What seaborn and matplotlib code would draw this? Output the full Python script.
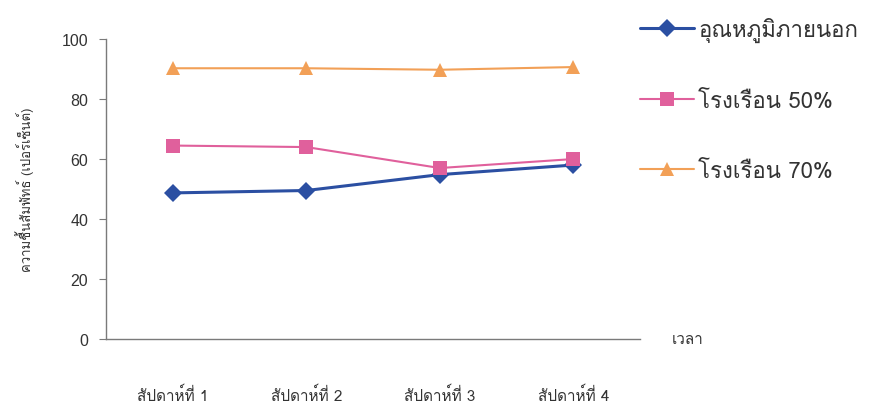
import matplotlib
matplotlib.use("Agg")
import matplotlib.pyplot as plt
from matplotlib import font_manager
from matplotlib.ft2font import FT2Font
import pandas as pd
import seaborn as sns

weeks = ["สัปดาห์ที่ 1", "สัปดาห์ที่ 2", "สัปดาห์ที่ 3", "สัปดาห์ที่ 4"]
series_names = ["อุณหภูมิภายนอก", "โรงเรือน 50%", "โรงเรือน 70%"]
outside = [48.7, 49.5, 54.8, 58.0]
house_50 = [64.5, 64.0, 57.0, 60.0]
house_70 = [90.3, 90.3, 89.8, 90.7]
y_ticks = [0, 20, 40, 60, 80, 100]
y_title = "ความชื้นสัมพัทธ์ (เปอร์เซ็นต์)"
x_title = "เวลา"

sns.set_style("white")


def thai_family():
    # pick an installed family that actually has Thai glyphs
    for fe in font_manager.fontManager.ttflist:
        try:
            cmap = FT2Font(fe.fname).get_charmap()
        except Exception:
            continue
        if 0x0E01 in cmap and 0x0E2D in cmap:
            return fe.name
    return None


fam = thai_family()
families = ([fam] if fam else []) + ["Liberation Sans", "DejaVu Sans"]
plt.rcParams["font.family"] = families

df = pd.DataFrame({
    "week": weeks * 3,
    "pos": list(range(len(weeks))) * 3,
    "value": outside + house_50 + house_70,
    "series": [series_names[0]] * 4 + [series_names[1]] * 4 + [series_names[2]] * 4,
})

colors = {series_names[0]: "#2B4FA2",
          series_names[1]: "#E0609C",
          series_names[2]: "#F2A057"}
markers = {series_names[0]: "D", series_names[1]: "s", series_names[2]: "^"}
widths = {series_names[0]: 2.2, series_names[1]: 1.5, series_names[2]: 1.5}
msizes = {series_names[0]: 9, series_names[1]: 10, series_names[2]: 10}

fig = plt.figure(figsize=(8.84, 4.06), dpi=100)
ax = fig.add_axes([0.12, 0.163, 0.604, 0.738])

sns.lineplot(data=df, x="pos", y="value", hue="series", style="series",
             palette=colors, markers=markers, dashes=False,
             markersize=9, markeredgewidth=0, linewidth=1.6, ax=ax,
             legend="full")

# per-series line weight and marker size
for line, name in zip(ax.get_lines()[:3], series_names):
    line.set_linewidth(widths[name])
    line.set_markersize(msizes[name])

ax.set_xlim(-0.5, len(weeks) - 0.5)
ax.set_ylim(0, 100)
ax.set_yticks(y_ticks)
ax.set_yticklabels([str(v) for v in y_ticks], fontsize=11.5, color="#333333",
                   family=["Liberation Sans", "DejaVu Sans"])
ax.set_xticks(range(len(weeks)))
ax.set_xticklabels(weeks, fontsize=11, color="#333333")
ax.set_xticks([i - 0.5 for i in range(len(weeks) + 1)], minor=True)
ax.tick_params(axis="x", which="major", length=0, pad=34)
ax.tick_params(axis="x", which="minor", length=5, color="#7a7a7a", direction="out")
ax.tick_params(axis="y", length=5, color="#7a7a7a", direction="out", pad=8, left=True)

for side in ("top", "right"):
    ax.spines[side].set_visible(False)
for side in ("left", "bottom"):
    ax.spines[side].set_color("#7a7a7a")
    ax.spines[side].set_linewidth(1.0)

ax.set_xlabel("")
ax.set_ylabel(y_title, fontsize=9.5, color="#333333", labelpad=20)
ax.text(1.09, 0.0, x_title, transform=ax.transAxes, fontsize=11,
        color="#333333", ha="center", va="center")

handles, labels = ax.get_legend_handles_labels()
for h, name in zip(handles, labels):
    if name in widths:
        h.set_linewidth(widths[name])
        h.set_markersize(msizes[name])
ax.legend(handles, labels, loc="upper left", bbox_to_anchor=(0.963, 1.142),
          frameon=False, fontsize=16, labelspacing=2.2, handlelength=2.4,
          handletextpad=0.2, labelcolor="#333333")

fig.savefig("out.png", dpi=100, facecolor="white")
